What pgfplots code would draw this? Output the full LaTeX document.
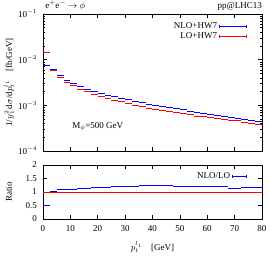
\documentclass[border=0pt]{standalone}
\usepackage{fontspec}
\setmainfont{Liberation Serif}
\usepackage{pgfplots}
\usepackage{pgfplotstable}
\usetikzlibrary{arrows.meta}
\pgfplotsset{compat=1.18}

\pgfplotstableread{
x dx nlo lo r
1.25 1.25 0.00753 0.01448 0.52
3.75 1.25 0.00596 0.00584 1.02
6.25 1.25 0.00447 0.00410 1.09
8.75 1.25 0.00347 0.00318 1.09
11.25 1.25 0.00295 0.00268 1.10
13.75 1.25 0.00257 0.00225 1.14
16.25 1.25 0.00226 0.00197 1.15
18.75 1.25 0.00202 0.00174 1.16
21.25 1.25 0.00182 0.00156 1.17
23.75 1.25 0.00168 0.00142 1.18
26.25 1.25 0.00155 0.00130 1.19
28.75 1.25 0.00143 0.00119 1.20
31.25 1.25 0.00132 0.00109 1.21
33.75 1.25 0.00123 0.00101 1.22
36.25 1.25 0.00115 0.000935 1.23
38.75 1.25 0.00107 0.000863 1.24
41.25 1.25 0.00101 0.000808 1.25
43.75 1.25 0.000955 0.000770 1.24
46.25 1.25 0.000902 0.000733 1.23
48.75 1.25 0.000851 0.000698 1.22
51.25 1.25 0.000794 0.000656 1.21
53.75 1.25 0.000750 0.000620 1.21
56.25 1.25 0.000708 0.000580 1.22
58.75 1.25 0.000676 0.000559 1.21
61.25 1.25 0.000646 0.000538 1.20
63.75 1.25 0.000610 0.000508 1.20
66.25 1.25 0.000582 0.000489 1.19
68.75 1.25 0.000550 0.000478 1.15
71.25 1.25 0.000525 0.000457 1.15
73.75 1.25 0.000495 0.000427 1.16
76.25 1.25 0.000473 0.000408 1.16
78.75 1.25 0.000452 0.000390 1.16
}\data

\pgfplotsset{
  histo/.style={draw=none, mark=none,
    error bars/.cd, x dir=both, x explicit, error mark=none,
    error bar style={draw=#1, line width=0.9pt}},
  lgimg/.style={legend image code/.code={\draw[#1, line width=0.7pt, {|[width=3.5pt]}-{|[width=3.5pt]}] (0pt,0pt) -- (27pt,0pt);}},
}

\begin{document}
\begin{tikzpicture}[font=\fontsize{9}{10.5}\selectfont]
\useasboundingbox (-43pt,14pt) rectangle (227pt,-242pt);
\begin{axis}[
  at={(0,0)}, anchor=north west, scale only axis,
  width=219pt, height=137pt,
  xmin=0, xmax=80, ymode=log, ymin=1e-4, ymax=1e-1,
  xtick={0,10,...,80}, xticklabels={},
  ytick={1e-4,1e-3,1e-2,1e-1},
  yticklabels={10$^{-4}$,10$^{-3}$,10$^{-2}$,10$^{-1}$},
  tick label style={font=\fontsize{9}{10.5}\selectfont},
  yticklabel style={xshift=-2.5pt},
  tick style={black, line width=0.5pt},
  major tick length=4pt, minor tick length=2pt,
  ylabel={1/$y_1^2$\,d$\sigma$/d$p_t^{l_1}$\quad[fb/GeV]},
  ylabel style={at={(axis description cs:-0.155,0.5)}, anchor=center},
  legend style={at={(axis description cs:0.945,0.965)}, anchor=north east, draw=none, fill=none,
    row sep=-1.5pt, font=\fontsize{9}{10.5}\selectfont},
  legend plot pos=right, legend cell align=right,
  clip=false,
]
\addplot[blue, lgimg=blue, histo=blue] table[x=x, y=nlo, x error=dx] {\data};
\addlegendentry{NLO+HW7}
\addplot[red, lgimg=red, histo=red] table[x=x, y=lo, x error=dx] {\data};
\addlegendentry{LO+HW7}
\node at (axis cs:20,3.4e-4) {M$_\phi$=500 GeV};
\node[anchor=south west, inner sep=0pt] at (axis description cs:0.01,1.025) {e$^+$e$^-$ $\to$ $\phi$};
\node[anchor=south east, inner sep=0pt] at (axis description cs:1,1.025) {pp@LHC13};
\end{axis}
\begin{axis}[
  at={(0,-151pt)}, anchor=north west, scale only axis,
  width=219pt, height=54pt,
  xmin=0, xmax=80, ymin=0, ymax=2,
  xtick={0,10,...,80}, ytick={0,0.5,1,1.5,2},
  /pgf/number format/assume math mode=true,
  tick label style={font=\fontsize{9}{10.5}\selectfont},
  yticklabel style={xshift=-2.5pt},
  xticklabel style={yshift=-3pt},
  tick style={black, line width=0.5pt},
  major tick length=4pt,
  ylabel={Ratio},
  ylabel style={at={(axis description cs:-0.155,0.5)}, anchor=center},
  xlabel={$p_t^{l_1}$\quad[GeV]},
  xlabel style={at={(axis description cs:0.5,0)}, yshift=-28pt, anchor=center, inner sep=0.5pt},
  legend style={at={(axis description cs:0.945,0.93)}, anchor=north east, draw=none, fill=none,
    font=\fontsize{9}{10.5}\selectfont},
  legend plot pos=right, legend cell align=right,
]
\addplot[blue, legend image code/.code={\draw[blue, line width=0.7pt, {|[width=3.5pt]}-{|[width=3.5pt]}] (0pt,0pt) -- (14pt,0pt);}, histo=blue] table[x=x, y=r, x error=dx] {\data};
\addlegendentry{NLO/LO}
\addplot[red, line width=0.9pt, forget plot] coordinates {(0,1) (80,1)};
\end{axis}
\end{tikzpicture}
\end{document}
